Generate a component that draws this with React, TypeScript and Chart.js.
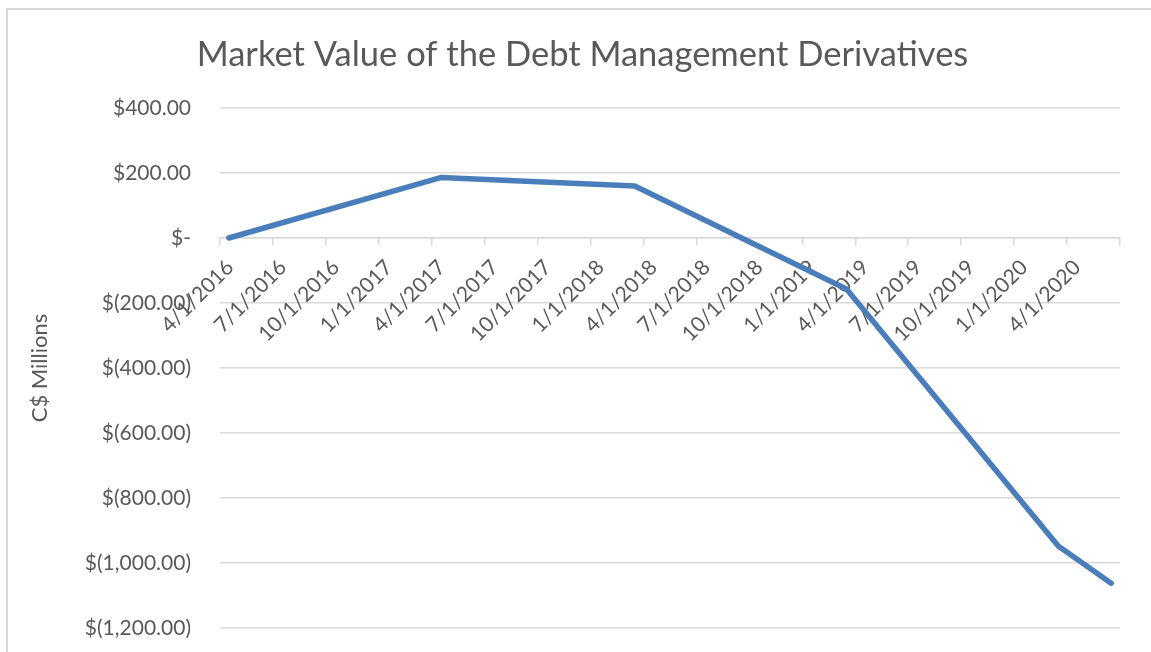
import React, { useEffect, useRef } from 'react';
import { Chart, registerables } from 'chart.js';

Chart.register(...registerables);

const TITLE = 'Market Value of the Debt Management Derivatives';
const Y_TITLE = 'C$ Millions';

// Observation months (year-month) and values in C$ millions
const PERIODS = ['2016-04', '2017-04', '2018-03', '2019-03', '2020-03', '2020-06'];
const VALUES = [0, 186, 160, -157, -948, -1062];

// Axis definition
const AXIS_START = '2016-04';
const AXIS_END = '2020-07';
const TICK_MONTHS = 3;
const X_TICK_LABELS = [
  '4/1/2016', '7/1/2016', '10/1/2016', '1/1/2017', '4/1/2017', '7/1/2017',
  '10/1/2017', '1/1/2018', '4/1/2018', '7/1/2018', '10/1/2018', '1/1/2019',
  '4/1/2019', '7/1/2019', '10/1/2019', '1/1/2020', '4/1/2020',
];
const Y_MIN = -1200;
const Y_MAX = 400;
const Y_STEP = 200;

const FONT = 'Lato, "Open Sans", sans-serif';
const TEXT_COLOR = '#595959';
const GRID_COLOR = '#d9d9d9';
const LINE_COLOR = '#4a7ebb';

function monthIndex(p: string): number {
  const [y, m] = p.split('-').map(Number);
  const [y0, m0] = AXIS_START.split('-').map(Number);
  return (y - y0) * 12 + (m - m0);
}

function accounting(v: number): string {
  if (v === 0) return '$-';
  const s = Math.abs(v).toLocaleString('en-US', { minimumFractionDigits: 2, maximumFractionDigits: 2 });
  return v < 0 ? `$(${s})` : `$${s}`;
}

const borderPlugin = {
  id: 'outerBorder',
  beforeDraw(chart: any) {
    const ctx = chart.ctx;
    ctx.save();
    ctx.strokeStyle = '#d9d9d9';
    ctx.lineWidth = 2;
    ctx.strokeRect(7, 9, chart.width + 20, chart.height + 20);
    ctx.restore();
  },
};

export default function App() {
  const ref = useRef<HTMLCanvasElement | null>(null);

  useEffect(() => {
    document.body.style.margin = '0';
    const canvas = ref.current!;
    const points = PERIODS.map((p, i) => ({ x: monthIndex(p) + 0.5, y: VALUES[i] }));
    const xMax = monthIndex(AXIS_END);

    const chart = new Chart(canvas, {
      type: 'line',
      data: {
        datasets: [
          {
            label: 'Market Value',
            data: points,
            borderColor: LINE_COLOR,
            backgroundColor: LINE_COLOR,
            borderWidth: 5.5,
            pointRadius: 0,
            tension: 0,
            borderCapStyle: 'round',
            borderJoinStyle: 'round',
            clip: false as any,
          },
        ],
      },
      options: {
        animation: false,
        responsive: false,
        layout: { padding: { left: 14, top: 0, right: 0, bottom: 24 } },
        plugins: {
          legend: { display: false },
          tooltip: { enabled: false },
          title: {
            display: true,
            text: TITLE,
            color: TEXT_COLOR,
            font: { family: FONT, size: 34.5, weight: 'normal' as any, lineHeight: 1.2 },
            padding: { top: 34, bottom: 32.6 },
          },
        },
        scales: {
          x: {
            type: 'linear',
            position: { y: 0 } as any,
            min: 0,
            max: xMax,
            afterBuildTicks: (scale: any) => {
              const t = [];
              for (let v = 0; v <= xMax; v += TICK_MONTHS) t.push({ value: v });
              scale.ticks = t;
            },
            afterFit: (scale: any) => {
              scale.paddingTop = 0;
              scale.paddingBottom = 0;
              scale.paddingRight = 31;
              scale.height = 0;
            },
            ticks: {
              autoSkip: false,
              minRotation: 45,
              maxRotation: 45,
              labelOffset: 10,
              padding: 10,
              color: TEXT_COLOR,
              font: { family: FONT, size: 21 },
              callback: (v: any) => {
                const i = Math.round(Number(v) / TICK_MONTHS);
                return X_TICK_LABELS[i] ?? '';
              },
            },
            grid: {
              drawOnChartArea: false,
              drawTicks: true,
              tickLength: 7,
              color: GRID_COLOR,
              lineWidth: 1.5,
            },
            border: { display: true, color: GRID_COLOR, width: 1.5 },
          },
          y: {
            min: Y_MIN,
            max: Y_MAX,
            afterFit: (scale: any) => {
              scale.width = 206;
              scale.paddingTop = 0;
              scale.paddingBottom = 0;
            },
            ticks: {
              stepSize: Y_STEP,
              padding: 29,
              color: TEXT_COLOR,
              font: { family: FONT, size: 21 },
              callback: (v: any) => accounting(Number(v)),
            },
            grid: { drawTicks: false, color: GRID_COLOR, lineWidth: 1.5 },
            border: { display: false },
            title: {
              display: true,
              text: Y_TITLE,
              color: TEXT_COLOR,
              font: { family: FONT, size: 22 },
              padding: { top: 13, bottom: 0 },
            },
          },
        },
      },
      plugins: [borderPlugin],
    });
    return () => chart.destroy();
  }, []);

  return (
    <div style={{ width: 1151, height: 652, position: 'relative', background: '#fff' }}>
      <canvas ref={ref} width={1151} height={652} style={{ display: 'block' }} />
    </div>
  );
}
